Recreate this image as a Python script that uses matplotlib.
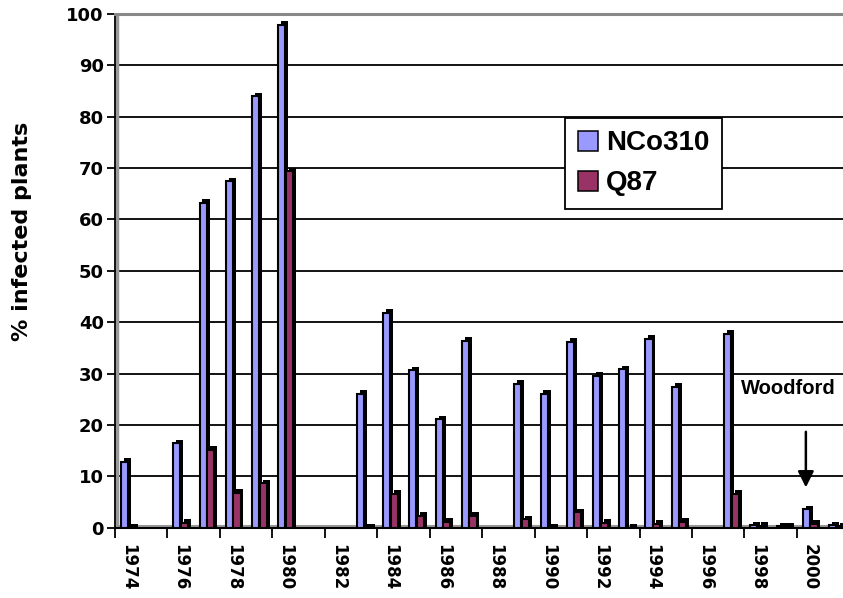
import numpy as np
import matplotlib
matplotlib.use("Agg")
import matplotlib.pyplot as plt
from matplotlib.patches import Patch

nan = np.nan

# data
years = list(range(1974, 2002))
nco310 = [12.8, nan, 16.4, 63.2, 67.4, 83.9, 97.8, nan, nan, 26.1, 41.8, 30.6, 21.1, 36.4,
          nan, 28.0, 26.1, 36.2, 29.5, 30.8, 36.7, 27.4, nan, 37.7, 0.5, 0.3, 3.6, 0.5]
q87 = [0.0, nan, 1.0, 15.2, 6.8, 8.6, 69.3, nan, nan, 0.0, 6.6, 2.3, 1.1, 2.3,
       nan, 1.65, 0.0, 3.0, 0.9, 0.0, 0.8, 1.1, nan, 6.6, 0.4, 0.3, 0.8, 0.3]
series_names = ["NCo310", "Q87"]
colors = ["#9999FF", "#993366"]
yticks = list(range(0, 101, 10))
year_labels = [str(y) for y in years[::2]]

fig = plt.figure(figsize=(8.43, 5.98), dpi=100)
ax = fig.add_axes([115 / 843, 1 - 527.7 / 598, 734.4 / 843, 514 / 598])

x = np.arange(len(years))
width = 0.27
dx, dy = 0.11, 0.7  # fake 3D depth (x in categories, y in %)

for i, (vals, col, off) in enumerate(zip([nco310, q87], colors, [-0.14, 0.15])):
    v = np.array(vals, dtype=float)
    # dark side/top of the pseudo-3D bar
    ax.bar(x + off + dx, v + dy, width=width, color="black", zorder=2 + 2 * i)
    ax.bar(x + off, v, width=width, color=col, edgecolor="black", linewidth=1.5,
           zorder=3 + 2 * i)

ax.set_xlim(-0.5, 27.5)
ax.set_ylim(0, 100)

# gridlines on the back wall
for g in yticks[1:-1]:
    ax.axhline(g, color="black", lw=1.3, zorder=1)
ax.axhline(0.35, color="#999999", lw=1.5, zorder=1)
ax.axvline(-0.43, color="#999999", lw=2.5, zorder=1)

ax.spines["right"].set_visible(False)
ax.spines["top"].set_color("#888888")
ax.spines["top"].set_linewidth(2.2)
ax.spines["left"].set_linewidth(1.3)
ax.spines["bottom"].set_linewidth(1.5)

ax.set_yticks(yticks)
ax.set_yticklabels([str(t) for t in yticks], fontsize=13, fontweight="bold")
ax.tick_params(axis="y", length=6, width=1.3, pad=2)

ax.set_xticks(x[::2])
ax.set_xticklabels(year_labels, rotation=-90, fontsize=12, fontweight="bold",
                   ha="center", va="top")
ax.set_xticks(np.arange(-0.5, 28, 2), minor=True)
ax.tick_params(axis="x", which="major", length=0, pad=12)
ax.tick_params(axis="x", which="minor", length=7, width=1.3)

ax.set_ylabel("% infected plants", fontsize=16, fontweight="bold", va="center")
ax.yaxis.set_label_coords(-0.127, 0.577)

ax.annotate("", xy=(25.84, 7.3), xytext=(25.84, 19.2),
            arrowprops=dict(arrowstyle="-|>", color="black", lw=1.8,
                            mutation_scale=24), zorder=8)
ax.text(25.16, 27.0, "Woodford", fontsize=14.5, fontweight="bold",
        family="Liberation Sans", ha="center", va="center", zorder=8)

handles = [Patch(facecolor=c, edgecolor="black", linewidth=1.1) for c in colors]
leg = ax.legend(handles, series_names, loc="upper left",
                bbox_to_anchor=(565 / 843, 1 - 118 / 598), bbox_transform=fig.transFigure,
                borderaxespad=0, fancybox=False, framealpha=1,
                prop={"family": "Liberation Sans", "weight": "bold", "size": 20},
                handlelength=0.72, handleheight=0.72, handletextpad=0.3,
                labelspacing=0.5, borderpad=0.45)
leg.get_frame().set_edgecolor("black")
leg.get_frame().set_linewidth(1.3)
leg.set_zorder(10)

fig.savefig("out.png", dpi=100)
